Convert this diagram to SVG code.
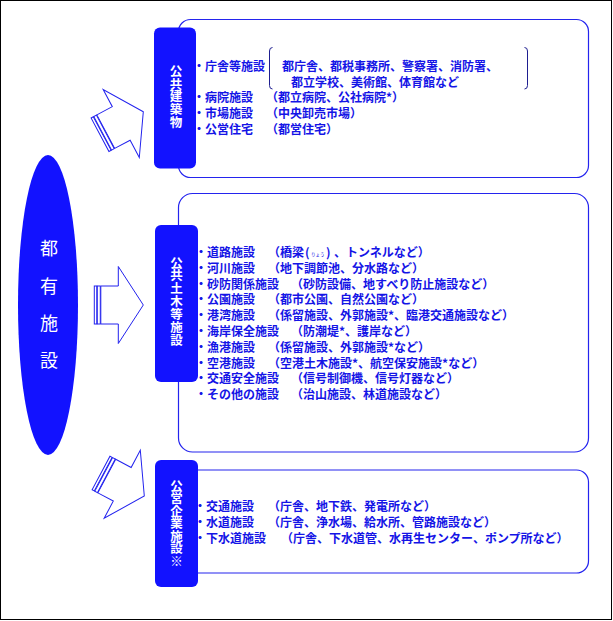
<svg xmlns="http://www.w3.org/2000/svg" width="613" height="621" viewBox="0 0 613 621">
<style>
  .frame{fill:#fff;stroke:#000;stroke-width:1}
  .box{fill:#fff;stroke:#2424EE;stroke-width:1.2}
  .lab{fill:#1212FF;stroke:none}
  .labt{fill:#fff;font-family:"Noto Sans CJK JP","Noto Sans CJK SC",sans-serif;font-size:12.5px;font-weight:bold;text-anchor:middle;writing-mode:vertical-rl;glyph-orientation-vertical:0}
  .t{fill:#1414E6;font-family:"Noto Sans CJK JP","Noto Sans CJK SC",sans-serif;font-size:12px;font-weight:bold}
  .ruby{font-size:4.5px;font-weight:normal}
  .root{fill:#1212FF}
  .roott{fill:#fff;font-family:"Noto Sans CJK JP","Noto Sans CJK SC",sans-serif;font-size:18px;text-anchor:middle}
  .arr{fill:#fff;stroke:#2222EE;stroke-width:1}
  .brk{fill:none;stroke:#1E1E90;stroke-width:1}
</style>
<defs>
  <g id="arrow">
    <path class="arr" d="M0,0 L-25,-38.5 L-25,-19 L-42.5,-19 L-42.5,19 L-25,19 L-25,38.5 Z"/>
    <rect class="arr" x="-49" y="-19" width="2.5" height="38"/>
    <rect class="arr" x="-46" y="-19" width="3" height="38"/>
  </g>
</defs>
<rect class="frame" x="0.5" y="0.5" width="611" height="619"/>

<g id="connectors">
  <use href="#arrow" transform="translate(143.3,111.7) rotate(-28)"/>
  <use href="#arrow" transform="translate(143.3,305)"/>
  <use href="#arrow" transform="translate(144.3,496) rotate(28)"/>
</g>

<g id="root-node">
  <ellipse class="root" cx="48" cy="305" rx="30" ry="150"/>
  <text class="roott"><tspan x="49" y="255">都</tspan><tspan x="49" y="293">有</tspan><tspan x="49" y="330">施</tspan><tspan x="49" y="367">設</tspan></text>
</g>

<g id="public-buildings">
  <rect class="box" x="178.5" y="19.5" width="410" height="158" rx="12"/>
  <rect class="lab" x="154" y="27.5" width="42" height="141" rx="6"/>
  <text class="labt" x="176" y="96.7" letter-spacing="0.2">公共建築物</text>
  <path class="brk" d="M272.5,47.5 Q269.5,47.5 269.5,51 V85.5 Q269.5,89 272.5,89"/>
  <path class="brk" d="M524.5,47.5 Q527.5,47.5 527.5,51 V85.5 Q527.5,89 524.5,89"/>
  <text class="t" x="193" y="70.5">・庁舎等施設</text>
  <text class="t" x="282" y="70.5">都庁舎、都税事務所、警察署、消防署、</text>
  <text class="t" x="291" y="86.5">都立学校、美術館、体育館など</text>
  <text class="t" y="102"><tspan x="193">・病院施設</tspan><tspan x="266">（都立病院、公社病院*）</tspan></text>
  <text class="t" y="118"><tspan x="193">・市場施設</tspan><tspan x="266">（中央卸売市場）</tspan></text>
  <text class="t" y="134"><tspan x="193">・公営住宅</tspan><tspan x="266">（都営住宅）</tspan></text>
</g>

<g id="public-civil-works">
  <rect class="box" x="178.5" y="193.5" width="410" height="258.5" rx="14"/>
  <rect class="lab" x="155" y="225" width="43" height="157" rx="6"/>
  <text class="labt" x="176.5" y="301.7" letter-spacing="0.4">公共土木等施設</text>
  <text class="t" y="257"><tspan x="195">・道路施設</tspan><tspan x="268">（橋梁</tspan><tspan x="305">(</tspan><tspan class="ruby" x="311" y="256">りょう</tspan><tspan x="326" y="257">)</tspan><tspan x="334">、トンネルなど）</tspan></text>
  <text class="t" y="272.8"><tspan x="195">・河川施設</tspan><tspan x="268">（地下調節池、分水路など）</tspan></text>
  <text class="t" y="288.6"><tspan x="195">・砂防関係施設</tspan><tspan x="291">（砂防設備、地すべり防止施設など）</tspan></text>
  <text class="t" y="304.4"><tspan x="195">・公園施設</tspan><tspan x="268">（都市公園、自然公園など）</tspan></text>
  <text class="t" y="320.2"><tspan x="195">・港湾施設</tspan><tspan x="268">（係留施設、外郭施設*、臨港交通施設など）</tspan></text>
  <text class="t" y="336"><tspan x="195">・海岸保全施設</tspan><tspan x="291">（防潮堤*、護岸など）</tspan></text>
  <text class="t" y="351.8"><tspan x="195">・漁港施設</tspan><tspan x="268">（係留施設、外郭施設*など）</tspan></text>
  <text class="t" y="367.6"><tspan x="195">・空港施設</tspan><tspan x="268">（空港土木施設*、航空保安施設*など）</tspan></text>
  <text class="t" y="383.4"><tspan x="195">・交通安全施設</tspan><tspan x="291">（信号制御機、信号灯器など）</tspan></text>
  <text class="t" y="399.2"><tspan x="195">・その他の施設</tspan><tspan x="291">（治山施設、林道施設など）</tspan></text>
</g>

<g id="public-enterprise">
  <rect class="box" x="178.5" y="470" width="410" height="103" rx="12"/>
  <rect class="lab" x="155" y="460" width="43" height="127" rx="6"/>
  <text class="labt" x="176.5" y="523.3" letter-spacing="0">公営企業施設※</text>
  <text class="t" y="510.5"><tspan x="194">・交通施設</tspan><tspan x="268">（庁舎、地下鉄、発電所など）</tspan></text>
  <text class="t" y="527"><tspan x="194">・水道施設</tspan><tspan x="268">（庁舎、浄水場、給水所、管路施設など）</tspan></text>
  <text class="t" y="543"><tspan x="194">・下水道施設</tspan><tspan x="281">（庁舎、下水道管、水再生センター、ポンプ所など）</tspan></text>
</g>
</svg>
